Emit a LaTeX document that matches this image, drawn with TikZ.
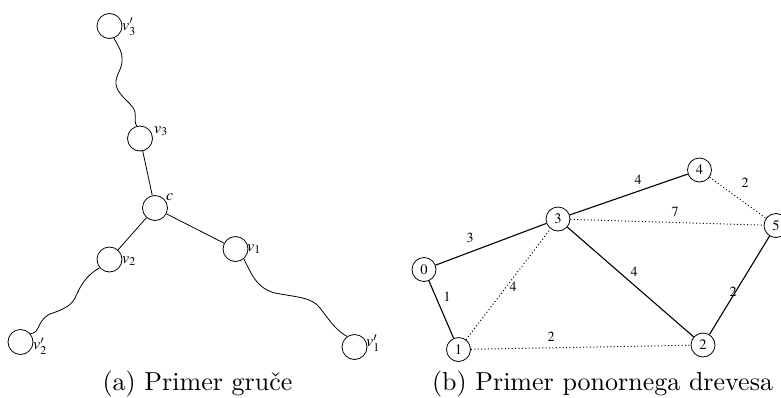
\documentclass[tikz,border=0pt]{standalone}
\usepackage{mathptmx}
\renewcommand\rmdefault{lmr}
\usepackage[no-math]{fontspec}
\newfontfamily\capfont{lmroman10-regular.otf}
\begin{document}
\begin{tikzpicture}[x=1pt,y=-1pt,
  vtx/.style={circle,draw,line width=0.8pt,minimum size=25pt,inner sep=0pt},
  gvtx/.style={circle,draw,line width=0.8pt,minimum size=24pt,inner sep=0pt,font=\fontsize{14.5}{16}\selectfont},
  vlab/.style={anchor=west,inner sep=0pt,font=\fontsize{16}{19}\selectfont},
  elab/.style={inner sep=0pt,font=\fontsize{14}{16}\selectfont},
  tline/.style={line width=0.8pt},
  solidedge/.style={line width=1.1pt},
  dotedge/.style={line width=1pt,dash pattern=on 1pt off 2.4pt},
  captxt/.style={inner sep=0pt,font=\capfont\fontsize{26}{30}\selectfont}]
\clip (0,0) rectangle (781,397);
% (a) cluster
\node[vtx] (v3p) at (109.5,26) {};
\node[vtx] (v3) at (140,138.5) {};
\node[vtx] (c) at (155,208) {};
\node[vtx] (v2) at (109.5,259.5) {};
\node[vtx] (v1) at (235.5,249) {};
\node[vtx] (v2p) at (20.5,342) {};
\node[vtx] (v1p) at (354.5,347) {};
\node[vlab] (lv3p) at (122,27) {$v'_3$};
\node[vlab] (lv3) at (154,131) {$v_3$};
\node[vlab] (lc) at (166,197) {$c$};
\node[vlab] (lv1) at (247,249) {$v_1$};
\node[vlab] (lv2) at (122,261) {$v_2$};
\node[vlab] (lv2p) at (33,346) {$v'_2$};
\node[vlab] (lv1p) at (366,343) {$v'_1$};
\draw[tline] (v3) -- (c);
\draw[tline] (c) -- (v2);
\draw[tline] (c) -- (v1);
\draw[tline] (v3p.-70) .. controls (118,46) and (123,52) .. (122,62)
  .. controls (121,72) and (113,78) .. (117,88)
  .. controls (121,98) and (133,104) .. (135,112)
  .. controls (136,118) and (134,122) .. (v3.105);
\draw[tline] (v2.-140) .. controls (85,276) and (80,287) .. (75,298)
  .. controls (71,306) and (62,310) .. (50,314)
  .. controls (42,318) and (40,324) .. (38,328)
  .. controls (37,331) and (35,333) .. (v2p.40);
\draw[tline] (v1.-50) .. controls (250,270) and (255,288) .. (275,293)
  .. controls (295,297) and (312,297) .. (320,308)
  .. controls (328,318) and (335,330) .. (v1p.125);
% (b) sink tree
\node[gvtx] (n0) at (424,269.5) {$0$};
\node[gvtx] (n1) at (458.5,349.5) {$1$};
\node[gvtx] (n3) at (558,219) {$3$};
\node[gvtx] (n4) at (699.5,170) {$4$};
\node[gvtx] (n5) at (776,225.5) {$5$};
\node[gvtx] (n2) at (703,345) {$2$};
\draw[solidedge] (n0) -- (n3) node[elab] at (470,238) {$3$};
\draw[solidedge] (n0) -- (n1) node[elab] at (447,297) {$1$};
\draw[dotedge] (n1) -- (n3) node[elab] at (513,287) {$4$};
\draw[dotedge] (n1) -- (n2) node[elab] at (551,337) {$2$};
\draw[solidedge] (n3) -- (n4) node[elab] at (638,180) {$4$};
\draw[dotedge] (n3) -- (n5) node[elab] at (675,212) {$7$};
\draw[solidedge] (n3) -- (n2) node[elab] at (634,272) {$4$};
\draw[dotedge] (n4) -- (n5) node[elab] at (745,183) {$2$};
\draw[solidedge] (n2) -- (n5) node[elab] at (733,292) {$2$};
% captions
\node[captxt,anchor=base] (capa) at (197.5,390) {(a) Primer gruče};
\node[captxt,anchor=base] (capb) at (602.5,390) {(b) Primer ponornega drevesa};
\end{tikzpicture}
\end{document}
